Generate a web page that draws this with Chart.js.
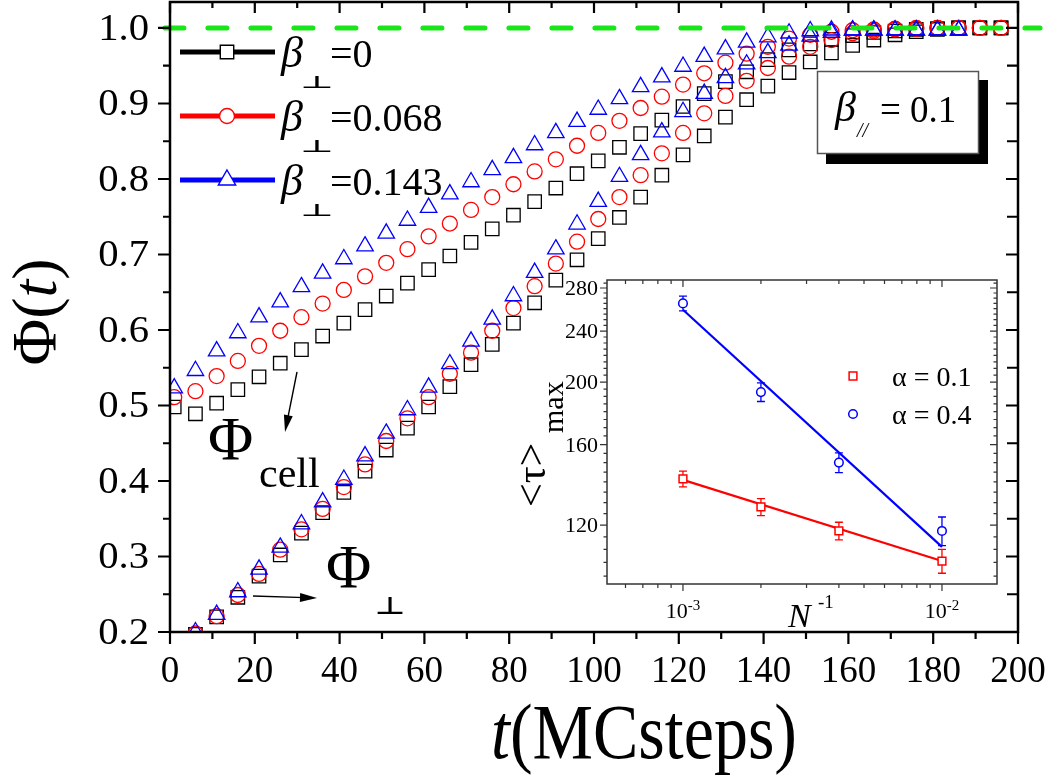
<!DOCTYPE html>
<html>
<head>
<meta charset="utf-8">
<script src="https://cdn.jsdelivr.net/npm/chart.js@4.4.0/dist/chart.umd.min.js"></script>
<style>
  body { margin: 0; background: #fff; }
  #wrap { position: relative; width: 1056px; height: 776px; }
  #wrap canvas { position: absolute; left: 0; top: 0; }
</style>
</head>
<body>
<div id="wrap">
  <canvas id="main" width="1056" height="776"></canvas>
  <canvas id="inset" width="1056" height="776"></canvas>
</div>
<script>
// ---- main panel: fraction Phi(t) vs MC steps ----
var tCell = [1, 6, 11, 16, 21, 26, 31, 36, 41, 46, 51, 56, 61, 66, 71, 76, 81, 86, 91, 96,
             101, 106, 111, 116, 121, 126, 131, 136, 141, 146, 151, 156, 161, 166, 171, 176, 181, 186, 191, 196];
var tPerp = [6, 11, 16, 21, 26, 31, 36, 41, 46, 51, 56, 61, 66, 71, 76, 81, 86, 91, 96,
             101, 106, 111, 116, 121, 126, 131, 136, 141, 146, 151, 156, 161, 166, 171, 176, 181, 186, 191, 196];

var betaLabels = ['0', '0.068', '0.143'];

// Phi_cell
var cellB0   = [0.498, 0.489, 0.503, 0.521, 0.538, 0.556, 0.574, 0.592, 0.609, 0.627,
                0.645, 0.662, 0.680, 0.698, 0.716, 0.734, 0.752, 0.770, 0.788, 0.807,
                0.824, 0.842, 0.860, 0.878, 0.896, 0.913, 0.929, 0.942, 0.958, 0.971,
                0.979, 0.985, 0.990, 0.994, 0.996, 0.998, 0.999, 1.000, 1.000, 1.000];
var cellB068 = [0.511, 0.519, 0.539, 0.559, 0.579, 0.599, 0.617, 0.635, 0.653, 0.671,
                0.689, 0.707, 0.724, 0.741, 0.759, 0.776, 0.793, 0.810, 0.826, 0.844,
                0.861, 0.877, 0.894, 0.909, 0.925, 0.940, 0.954, 0.966, 0.975, 0.986,
                0.991, 0.995, 0.997, 0.998, 0.999, 1.000, 1.000, 1.000, 1.000, 1.000];
var cellB143 = [0.523, 0.546, 0.572, 0.596, 0.617, 0.637, 0.657, 0.675, 0.694, 0.711,
                0.728, 0.745, 0.762, 0.780, 0.796, 0.812, 0.828, 0.845, 0.861, 0.876,
                0.892, 0.906, 0.922, 0.935, 0.949, 0.962, 0.972, 0.981, 0.988, 0.993,
                0.996, 0.997, 0.997, 0.997, 0.997, 0.997, 0.997, 0.997];

// Phi_perp
var perpB0   = [0.197, 0.220, 0.246, 0.274, 0.302, 0.331, 0.358, 0.385, 0.413, 0.441,
                0.470, 0.498, 0.525, 0.554, 0.581, 0.609, 0.636, 0.666, 0.693, 0.721,
                0.749, 0.776, 0.805, 0.832, 0.857, 0.882, 0.905, 0.923, 0.941, 0.955,
                0.967, 0.977, 0.984, 0.991, 0.995, 0.998, 1.000, 1.000, 1.000];
var perpB068 = [0.198, 0.221, 0.249, 0.277, 0.309, 0.336, 0.363, 0.392, 0.422, 0.453,
                0.483, 0.511, 0.542, 0.570, 0.599, 0.629, 0.658, 0.688, 0.717, 0.747,
                0.776, 0.805, 0.834, 0.861, 0.887, 0.910, 0.930, 0.947, 0.962, 0.975,
                0.984, 0.993, 0.996, 0.998, 0.999, 1.000, 1.000, 1.000, 1.000];
var perpB143 = [0.200, 0.223, 0.253, 0.283, 0.312, 0.343, 0.372, 0.402, 0.433, 0.463,
                0.494, 0.524, 0.555, 0.585, 0.614, 0.645, 0.676, 0.707, 0.740, 0.770,
                0.803, 0.832, 0.862, 0.889, 0.913, 0.934, 0.952, 0.967, 0.977, 0.989,
                0.994, 0.997, 0.997, 0.997, 0.997, 0.997, 0.997];

var xMajor = [0, 20, 40, 60, 80, 100, 120, 140, 160, 180, 200];
var xMinor = [10, 30, 50, 70, 90, 110, 130, 150, 170, 190];
var yMajor = [0.2, 0.3, 0.4, 0.5, 0.6, 0.7, 0.8, 0.9, 1.0];
var yMinor = [0.25, 0.35, 0.45, 0.55, 0.65, 0.75, 0.85, 0.95];

// ---- inset: <tau>_max vs 1/N ----
var invN    = [0.001, 0.002, 0.004, 0.01];
var tauA01  = [141.5, 128.0, 117.5, 105.5];
var errA01  = [4.0, 3.9, 3.7, 4.5];
var tauA04  = [265.0, 193.0, 150.0, 117.5];
var errA04  = [7.0, 6.4, 5.3, 6.0];
var fitN    = [0.001, 0.01];
var fitA01  = [141.0, 105.5];
var fitA04  = [259.0, 111.0];
var alphaLabels = ['α = 0.1', 'α = 0.4'];
var inYMajor = [120, 160, 200, 240, 280];
var inXMajor = [0.001, 0.01];
var inXExp = ['-3', '-2'];

var SERIF = "'Liberation Serif'";
var TACK = "'Noto Sans CJK JP', 'DejaVu Sans'";

function pts(xs, ys) {
  return ys.map(function (y, i) { return { x: xs[i], y: y }; });
}

function drawTicks(c, scale, vals, side, len, a) {
  c.beginPath();
  vals.forEach(function (v) {
    var p = scale.getPixelForValue(v);
    if (side === 'bottom') { c.moveTo(p, a.bottom); c.lineTo(p, a.bottom + len); }
    if (side === 'top')    { c.moveTo(p, a.top);    c.lineTo(p, a.top + len); }
    if (side === 'left')   { c.moveTo(a.left, p);   c.lineTo(a.left - len, p); }
    if (side === 'right')  { c.moveTo(a.right, p);  c.lineTo(a.right - len, p); }
  });
  c.stroke();
}

// parts: [text, font, dy]
function label(c, parts, x, y, o) {
  o = o || {};
  c.save();
  c.translate(x, y);
  if (o.rot) c.rotate(o.rot);
  c.scale(o.sx || 1, o.sy || 1);
  c.fillStyle = o.color || '#000';
  c.textBaseline = 'alphabetic';
  c.textAlign = 'left';
  var w = 0;
  parts.forEach(function (p) { c.font = p[1]; w += c.measureText(p[0]).width; });
  var cx = o.align === 'center' ? -w / 2 : (o.align === 'right' ? -w : 0);
  parts.forEach(function (p) {
    c.font = p[1];
    c.fillText(p[0], cx, p[2] || 0);
    cx += c.measureText(p[0]).width;
  });
  c.restore();
}

// squeeze a single glyph into the box (x0,y0)-(x1,y1)
function boxGlyph(c, s, font, x0, y0, x1, y1) {
  c.save();
  c.font = font;
  var m = c.measureText(s);
  var gw = m.actualBoundingBoxLeft + m.actualBoundingBoxRight;
  var gh = m.actualBoundingBoxAscent + m.actualBoundingBoxDescent;
  c.translate(x0, y0);
  c.scale((x1 - x0) / gw, (y1 - y0) / gh);
  c.textAlign = 'left';
  c.textBaseline = 'alphabetic';
  c.fillStyle = '#000';
  c.fillText(s, m.actualBoundingBoxLeft, m.actualBoundingBoxAscent);
  c.restore();
}

function marker(c, style, x, y, r, color, lw) {
  c.beginPath();
  if (style === 'rect') {
    var h = r * Math.SQRT1_2;
    c.rect(x - h, y - h, 2 * h, 2 * h);
  } else if (style === 'circle') {
    c.arc(x, y, r, 0, 2 * Math.PI);
  } else {
    c.moveTo(x, y - r);
    c.lineTo(x + r * 0.866, y + r / 2);
    c.lineTo(x - r * 0.866, y + r / 2);
    c.closePath();
  }
  c.fillStyle = '#fff';
  c.fill();
  c.strokeStyle = color;
  c.lineWidth = lw;
  c.stroke();
}

function arrow(c, x1, y1, x2, y2) {
  var ang = Math.atan2(y2 - y1, x2 - x1), L = 17, W = 4.5;
  var ca = Math.cos(ang), sa = Math.sin(ang);
  c.beginPath();
  c.moveTo(x1, y1);
  c.lineTo(x2 - L * 0.7 * ca, y2 - L * 0.7 * sa);
  c.lineWidth = 1.4;
  c.stroke();
  c.beginPath();
  c.moveTo(x2, y2);
  c.lineTo(x2 - L * ca + W * sa, y2 - L * sa - W * ca);
  c.lineTo(x2 - L * ca - W * sa, y2 - L * sa + W * ca);
  c.closePath();
  c.fill();
}

var mainDecor = {
  id: 'mainDecor',
  beforeDraw: function (chart) {
    var c = chart.ctx;
    c.save();
    c.fillStyle = '#fff';
    c.fillRect(0, 0, chart.width, chart.height);
    c.restore();
  },
  afterDraw: function (chart) {
    var c = chart.ctx, a = chart.chartArea, xs = chart.scales.x, ys = chart.scales.y;
    c.save();
    c.strokeStyle = '#000';
    c.lineWidth = 2.5;
    c.strokeRect(a.left, a.top, a.right - a.left, a.bottom - a.top);

    c.lineWidth = 2.2;
    drawTicks(c, xs, xMajor, 'bottom', 12, a);
    drawTicks(c, xs, xMinor, 'bottom', 7, a);
    drawTicks(c, xs, xMajor, 'top', 11, a);
    drawTicks(c, xs, xMinor, 'top', 6, a);
    drawTicks(c, ys, yMajor, 'left', 12, a);
    drawTicks(c, ys, yMinor, 'left', 7, a);
    drawTicks(c, ys, yMajor, 'right', 12, a);
    drawTicks(c, ys, yMinor, 'right', 11, a);

    xMajor.forEach(function (v) {
      label(c, [[String(v), '37px ' + SERIF]], xs.getPixelForValue(v), 682, { align: 'center' });
    });
    yMajor.forEach(function (v) {
      label(c, [[v.toFixed(1), '37px ' + SERIF]], 149, ys.getPixelForValue(v) + 12, { align: 'right', sx: 1.1 });
    });

    // axis titles
    label(c, [['t', 'italic 68px ' + SERIF], ['(MCsteps)', '68px ' + SERIF]], 491, 758, { sy: 1.15 });
    label(c, [['Φ(', '64px ' + SERIF], ['t', 'italic 64px ' + SERIF], [')', '64px ' + SERIF]],
          56, 312, { rot: -Math.PI / 2, align: 'center' });

    // legend
    var rows = [
      { y: 52,  color: '#000', style: 'rect',     r: 9.5 },
      { y: 116, color: '#f00', style: 'circle',   r: 7.5 },
      { y: 180, color: '#00f', style: 'triangle', r: 10 }
    ];
    rows.forEach(function (row, i) {
      c.beginPath();
      c.moveTo(180, row.y);
      c.lineTo(275, row.y);
      c.strokeStyle = row.color;
      c.lineWidth = 5;
      c.stroke();
      marker(c, row.style, 227, row.y, row.r, row.color, 1.4);
      label(c, [['β', 'italic 44px ' + SERIF]], 281, row.y + 15);
      boxGlyph(c, '⊥', 'bold 40px ' + TACK, 303, row.y + 24, 331, row.y + 36);
      label(c, [['=' + betaLabels[i], '40px ' + SERIF]], 330, row.y + 15);
    });

    // beta_// box with drop shadow
    c.fillStyle = '#000';
    c.fillRect(826, 80, 162, 84);
    c.fillStyle = '#fff';
    c.fillRect(817, 71, 162, 83);
    c.strokeStyle = '#555';
    c.lineWidth = 1.5;
    c.strokeRect(817.5, 71.5, 161, 82);
    label(c, [['β', 'italic 42px ' + SERIF]], 835, 121);
    label(c, [['//', 'italic 20px ' + SERIF]], 857, 137);
    label(c, [['= 0.1', '37px ' + SERIF]], 880, 122);

    // curve annotations
    label(c, [['Φ', '62px ' + SERIF]], 208, 459);
    label(c, [['cell', '42px ' + SERIF]], 259, 487);
    label(c, [['Φ', '62px ' + SERIF]], 326, 587);
    boxGlyph(c, '⊥', 'bold 40px ' + TACK, 377, 597, 403, 614);
    c.strokeStyle = '#000';
    c.fillStyle = '#000';
    arrow(c, 297, 372, 285, 432);
    arrow(c, 253, 596, 317, 598);
    c.restore();
  }
};

function series(xs, ys, style, r, color) {
  return {
    data: pts(xs, ys),
    pointStyle: style,
    pointRadius: r,
    pointHoverRadius: r,
    pointBorderWidth: 1.3,
    pointBorderColor: color,
    pointBackgroundColor: 'rgba(0,0,0,0)',
    borderColor: color,
    showLine: false
  };
}

new Chart(document.getElementById('main'), {
  type: 'scatter',
  data: {
    datasets: [
      // Phi = 1 reference line, runs a little past both axes
      { data: [{ x: -1.2, y: 1 }, { x: 205.2, y: 1 }], showLine: true, pointRadius: 0,
        borderColor: 'rgb(25,230,25)', borderWidth: 5, borderDash: [19, 24],
        borderCapStyle: 'round', clip: false },
      series(tCell, cellB143, 'triangle', 9.5, '#00f'),
      series(tPerp, perpB143, 'triangle', 9.5, '#00f'),
      series(tCell, cellB068, 'circle', 7.5, '#f00'),
      series(tPerp, perpB068, 'circle', 7.5, '#f00'),
      series(tCell, cellB0, 'rect', 9.5, '#000'),
      series(tPerp, perpB0, 'rect', 9.5, '#000')
    ]
  },
  options: {
    responsive: false,
    animation: false,
    devicePixelRatio: 1,
    events: [],
    layout: { autoPadding: false, padding: { left: 170, right: 38, top: 2, bottom: 144 } },
    plugins: { legend: { display: false }, tooltip: { enabled: false } },
    scales: {
      x: { type: 'linear', min: 0, max: 200, display: false },
      y: { type: 'linear', min: 0.2, max: 1.0344, display: false }
    }
  },
  plugins: [mainDecor]
});

var insetDecor = {
  id: 'insetDecor',
  beforeDatasetsDraw: function (chart) {
    var c = chart.ctx, xs = chart.scales.x, ys = chart.scales.y;
    c.save();
    c.lineWidth = 1.3;
    [[tauA01, errA01, '#f00'], [tauA04, errA04, '#00f']].forEach(function (s) {
      c.strokeStyle = s[2];
      c.beginPath();
      s[0].forEach(function (v, i) {
        var px = xs.getPixelForValue(invN[i]);
        var hi = ys.getPixelForValue(v + s[1][i]);
        var lo = ys.getPixelForValue(v - s[1][i]);
        c.moveTo(px, hi); c.lineTo(px, lo);
        c.moveTo(px - 4, hi); c.lineTo(px + 4, hi);
        c.moveTo(px - 4, lo); c.lineTo(px + 4, lo);
      });
      c.stroke();
    });
    c.restore();
  },
  afterDraw: function (chart) {
    var c = chart.ctx, a = chart.chartArea, xs = chart.scales.x, ys = chart.scales.y;
    c.save();
    c.strokeStyle = '#333';
    c.lineWidth = 1.5;
    c.strokeRect(a.left, a.top, a.right - a.left, a.bottom - a.top);

    var xMin = [0.0006, 0.0007, 0.0008, 0.0009], yMin = [];
    for (var k = 2; k <= 9; k++) xMin.push(k * 0.001);
    for (var v = 100; v <= 285; v += 5) if (inYMajor.indexOf(v) < 0) yMin.push(v);

    c.lineWidth = 1.2;
    drawTicks(c, xs, inXMajor, 'bottom', 7, a);
    drawTicks(c, xs, xMin, 'bottom', 4, a);
    drawTicks(c, xs, inXMajor, 'top', 7, a);
    drawTicks(c, xs, xMin, 'top', 4, a);
    drawTicks(c, ys, inYMajor, 'left', 7, a);
    drawTicks(c, ys, yMin, 'left', 3.5, a);
    drawTicks(c, ys, inYMajor, 'right', 7, a);
    drawTicks(c, ys, yMin, 'right', 3.5, a);

    inYMajor.forEach(function (v) {
      label(c, [[String(v), '22px ' + SERIF]], 598, ys.getPixelForValue(v) + 7, { align: 'right' });
    });
    inXMajor.forEach(function (v, i) {
      label(c, [['10', '22px ' + SERIF], [inXExp[i], '15px ' + SERIF, -8]],
            xs.getPixelForValue(v), 618, { align: 'center' });
    });

    // axis titles
    label(c, [['N', 'italic 34px ' + SERIF]], 788, 627);
    label(c, [['-1', '19px ' + SERIF]], 818, 608);
    label(c, [['<τ>', '42px ' + SERIF]], 545, 507, { rot: -Math.PI / 2 });
    label(c, [['max', '30px ' + SERIF]], 563, 433, { rot: -Math.PI / 2 });

    // legend
    marker(c, 'rect', 853, 376, 5.5, '#f00', 1.5);
    marker(c, 'circle', 853, 414, 4.3, '#00f', 1.5);
    label(c, [[alphaLabels[0], '28px ' + SERIF]], 892, 386);
    label(c, [[alphaLabels[1], '28px ' + SERIF]], 892, 424);
    c.restore();
  }
};

new Chart(document.getElementById('inset'), {
  type: 'scatter',
  data: {
    datasets: [
      { data: pts(invN, tauA01), pointStyle: 'rect', pointRadius: 5.5, pointBorderWidth: 1.5,
        pointBorderColor: '#f00', pointBackgroundColor: '#fff', showLine: false },
      { data: pts(invN, tauA04), pointStyle: 'circle', pointRadius: 4.3, pointBorderWidth: 1.5,
        pointBorderColor: '#00f', pointBackgroundColor: '#fff', showLine: false },
      { data: pts(fitN, fitA01), showLine: true, pointRadius: 0, borderColor: '#f00', borderWidth: 2.2 },
      { data: pts(fitN, fitA04), showLine: true, pointRadius: 0, borderColor: '#00f', borderWidth: 2.2 }
    ]
  },
  options: {
    responsive: false,
    animation: false,
    devicePixelRatio: 1,
    events: [],
    layout: { autoPadding: false, padding: { left: 607, right: 59, top: 280, bottom: 192 } },
    plugins: { legend: { display: false }, tooltip: { enabled: false } },
    scales: {
      x: { type: 'logarithmic', min: 0.000509, max: 0.01631, display: false },
      y: { type: 'logarithmic', min: 97.2, max: 288.1, display: false }
    }
  },
  plugins: [insetDecor]
});
</script>
</body>
</html>
